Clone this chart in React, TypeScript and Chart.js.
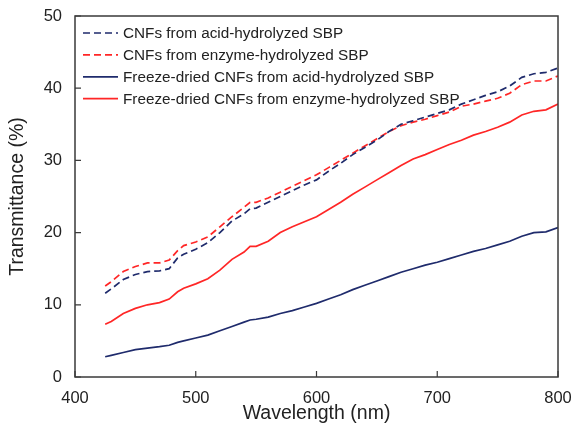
import React, { useEffect, useRef } from "react";
import { Chart, registerables } from "chart.js";

Chart.register(...registerables);

// Wavelength (nm)
const wavelengths = [
  425, 430, 440, 450, 460, 470, 478, 485, 490, 500, 510, 520, 530, 540, 545, 550,
  560, 570, 580, 590, 600, 610, 620, 630, 640, 650, 660, 670, 680, 690, 700, 710,
  720, 730, 740, 750, 760, 770, 780, 790, 800,
];

// Transmittance (%)
const acidCNF = [
  11.6, 12.2, 13.5, 14.2, 14.6, 14.7, 15.0, 16.5, 17.0, 17.7, 18.6, 20.0, 21.6, 22.6, 23.3, 23.4,
  24.2, 25.0, 25.8, 26.6, 27.3, 28.5, 29.6, 30.8, 31.8, 32.8, 34.0, 35.0, 35.5, 36.0, 36.5, 37.0,
  37.8, 38.4, 39.0, 39.5, 40.3, 41.5, 42.0, 42.2, 42.8,
];
const enzymeCNF = [
  12.6, 13.2, 14.6, 15.3, 15.8, 15.8, 16.2, 17.5, 18.2, 18.7, 19.4, 20.8, 22.2, 23.5, 24.2, 24.2,
  24.8, 25.6, 26.4, 27.2, 28.0, 29.0, 30.0, 31.0, 32.0, 33.0, 34.0, 34.8, 35.3, 35.7, 36.2, 36.7,
  37.5, 37.8, 38.2, 38.6, 39.3, 40.5, 41.0, 41.0, 41.7,
];
const freezeAcid = [
  2.8, 3.0, 3.4, 3.8, 4.0, 4.2, 4.4, 4.8, 5.0, 5.4, 5.8, 6.4, 7.0, 7.6, 7.9, 8.0,
  8.3, 8.8, 9.2, 9.7, 10.2, 10.8, 11.4, 12.1, 12.7, 13.3, 13.9, 14.5, 15.0, 15.5, 15.9, 16.4,
  16.9, 17.4, 17.8, 18.3, 18.8, 19.5, 20.0, 20.1, 20.7,
];
const freezeEnzyme = [
  7.3, 7.7, 8.8, 9.5, 10.0, 10.3, 10.8, 11.8, 12.3, 12.9, 13.6, 14.8, 16.3, 17.3, 18.1, 18.1,
  18.8, 20.0, 20.8, 21.5, 22.2, 23.2, 24.2, 25.3, 26.3, 27.3, 28.3, 29.3, 30.2, 30.8, 31.5, 32.2,
  32.8, 33.5, 34.0, 34.6, 35.3, 36.3, 36.8, 37.0, 37.8,
];

const seriesLabels = [
  "CNFs from acid-hydrolyzed SBP",
  "CNFs from enzyme-hydrolyzed SBP",
  "Freeze-dried CNFs from acid-hydrolyzed SBP",
  "Freeze-dried CNFs from enzyme-hydrolyzed SBP",
];

const xTicks = [400, 500, 600, 700, 800];
const yTicks = [0, 10, 20, 30, 40, 50];

const NAVY = "#1F2B6C";
const RED = "#FF2626";
const FONT = "'Liberation Sans', Arial, Helvetica, sans-serif";

const toPoints = (ys: number[]) => wavelengths.map((x, i) => ({ x, y: ys[i] }));

const framePlugin = {
  id: "frameAndLegend",
  afterDatasetsDraw(chart: any) {
    const { ctx, chartArea: a, scales } = chart;
    ctx.save();
    // frame
    ctx.strokeStyle = "#3a3a3a";
    ctx.lineWidth = 1.5;
    ctx.setLineDash([]);
    ctx.strokeRect(a.left, a.top, a.right - a.left, a.bottom - a.top);
    // inward ticks
    ctx.lineWidth = 1.2;
    ctx.beginPath();
    xTicks.forEach((v) => {
      const x = scales.x.getPixelForValue(v);
      ctx.moveTo(x, a.bottom);
      ctx.lineTo(x, a.bottom - 6);
    });
    yTicks.forEach((v) => {
      const y = scales.y.getPixelForValue(v);
      ctx.moveTo(a.left, y);
      ctx.lineTo(a.left + 6, y);
    });
    ctx.stroke();

    // legend
    const x0 = a.left + 8;
    const x1 = a.left + 43;
    const rowY0 = a.top + 17;
    const rowGap = 21.9;
    ctx.font = `15.3px ${FONT}`;
    ctx.textBaseline = "middle";
    ctx.textAlign = "left";
    chart.data.datasets.forEach((ds: any, i: number) => {
      const y = rowY0 + i * rowGap;
      ctx.beginPath();
      ctx.strokeStyle = ds.borderColor;
      ctx.lineWidth = ds.borderWidth;
      ctx.setLineDash(ds.borderDash || []);
      ctx.moveTo(x0, y);
      ctx.lineTo(x1, y);
      ctx.stroke();
      ctx.setLineDash([]);
      ctx.fillStyle = "#222";
      ctx.fillText(ds.label, x1 + 5, y + 1);
    });
    ctx.restore();
  },
};

export default function App() {
  const canvasRef = useRef<HTMLCanvasElement | null>(null);

  useEffect(() => {
    document.documentElement.style.margin = "0";
    document.body.style.margin = "0";
    document.body.style.overflow = "hidden";
    const canvas = canvasRef.current;
    if (!canvas) return;

    const lineBase = { pointRadius: 0, fill: false, tension: 0, borderWidth: 1.7 };

    const chart = new Chart(canvas, {
      type: "line",
      data: {
        datasets: [
          { ...lineBase, label: seriesLabels[0], data: toPoints(acidCNF), borderColor: NAVY, borderDash: [7, 4] },
          { ...lineBase, label: seriesLabels[1], data: toPoints(enzymeCNF), borderColor: RED, borderDash: [7, 4] },
          { ...lineBase, label: seriesLabels[2], data: toPoints(freezeAcid), borderColor: NAVY },
          { ...lineBase, label: seriesLabels[3], data: toPoints(freezeEnzyme), borderColor: RED },
        ],
      },
      options: {
        responsive: false,
        animation: false,
        devicePixelRatio: 1,
        layout: { padding: { top: 16, right: 14, left: 0, bottom: 0 } },
        plugins: {
          legend: { display: false },
          tooltip: { enabled: false },
        },
        scales: {
          x: {
            type: "linear",
            min: 400,
            max: 800,
            afterBuildTicks: (scale: any) => {
              scale.ticks = xTicks.map((v) => ({ value: v }));
            },
            afterFit: (scale: any) => {
              scale.height = 54;
              scale.paddingLeft = 0;
              scale.paddingRight = 0;
            },
            grid: { display: false, drawTicks: false },
            border: { display: false },
            ticks: {
              padding: 12,
              color: "#222",
              font: { family: FONT, size: 16.5 },
              maxRotation: 0,
              autoSkip: false,
            },
            title: {
              display: true,
              text: "Wavelength (nm)",
              color: "#222",
              font: { family: FONT, size: 19.5 },
              padding: { top: 0, bottom: 6 },
            },
          },
          y: {
            type: "linear",
            min: 0,
            max: 50,
            afterBuildTicks: (scale: any) => {
              scale.ticks = yTicks.map((v) => ({ value: v }));
            },
            afterFit: (scale: any) => {
              scale.width = 75;
              scale.paddingTop = 0;
              scale.paddingBottom = 0;
            },
            grid: { display: false, drawTicks: false },
            border: { display: false },
            ticks: {
              padding: 13,
              color: "#222",
              font: { family: FONT, size: 16.5 },
            },
            title: {
              display: true,
              text: "Transmittance (%)",
              color: "#222",
              font: { family: FONT, size: 19.5 },
              padding: { top: 6, bottom: 0 },
            },
          },
        },
      },
      plugins: [framePlugin],
    } as any);

    return () => chart.destroy();
  }, []);

  return (
    <canvas
      ref={canvasRef}
      width={572}
      height={431}
      style={{ display: "block", width: 572, height: 431 }}
    />
  );
}
